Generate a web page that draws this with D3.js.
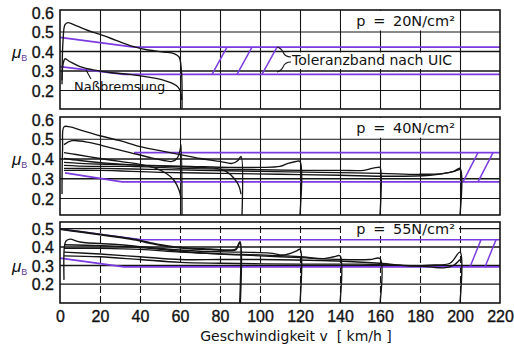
<!DOCTYPE html>
<html>
<head>
<meta charset="utf-8">
<script src="https://cdn.jsdelivr.net/npm/d3@7"></script>
<style>
  body { margin: 0; background: #fff; }
  text { font-family: "Liberation Sans", Arial, sans-serif; fill: #111; }
  .lettering { font-family: "DejaVu Sans", sans-serif; }
</style>
</head>
<body>
<svg id="chart" width="514" height="347"></svg>
<script>
// --- data -----------------------------------------------------------------
const speedTicks = [0, 20, 40, 60, 80, 100, 120, 140, 160, 180, 200, 220];
const muTicksFull = [0.2, 0.3, 0.4, 0.5, 0.6];
const muTicksShort = [0.2, 0.3, 0.4, 0.5];
const pressureLabels = ["p = 20N/cm²", "p = 40N/cm²", "p = 55N/cm²"];

// UIC tolerance band, [v km/h, mu]
const bandUpper20 = [[0, 0.47], [37, 0.42], [220, 0.42]];
const bandLower20 = [[0, 0.32], [32, 0.28], [220, 0.28]];
const bandUpper40 = [[37, 0.43], [220, 0.43]];
const bandLower40 = [[2.5, 0.327], [31, 0.282], [220, 0.282]];
const bandUpper55 = [[0, 0.495], [41, 0.437], [220, 0.437]];
const bandLower55 = [[0, 0.338], [32, 0.29], [220, 0.29]];

// hatch strokes (start speed at the lower band line)
const hatch20 = [76, 88.5, 101];
const hatch40 = [201.5, 209];
const hatch55 = [205, 212.5];

// braking runs p = 20 N/cm2
const dry20 = [[1, 0.25], [1.5, 0.45], [2.5, 0.535], [4, 0.545], [8, 0.53], [14, 0.505], [20, 0.485], [28, 0.455], [36, 0.425], [44, 0.405], [52, 0.395], [57, 0.387], [59.5, 0.37], [60.7, 0.3], [61, 0.103]];
const wet20 = [[1, 0.23], [1.5, 0.33], [2.5, 0.36], [5, 0.345], [10, 0.32], [16, 0.305], [25, 0.29], [35, 0.28], [45, 0.265], [52, 0.25], [56, 0.235], [59, 0.215], [60.3, 0.19], [60.9, 0.15]];

// braking runs p = 40 N/cm2
const run40a = [[1, 0.22], [1.3, 0.45], [2, 0.56], [5, 0.56], [10, 0.545], [20, 0.515], [30, 0.49], [40, 0.46], [50, 0.44], [60, 0.42], [70, 0.4], [80, 0.385], [86, 0.375], [89, 0.39], [90.5, 0.41], [91, 0.114]];
const run40b = [[2, 0.47], [6, 0.49], [15, 0.48], [25, 0.455], [35, 0.43], [45, 0.405], [52, 0.39], [56, 0.385], [58.5, 0.4], [60, 0.44], [60.5, 0.47], [61, 0.114]];
const run40c = [[2, 0.43], [8, 0.42], [20, 0.4], [30, 0.385], [40, 0.37], [48, 0.35], [53, 0.325], [57, 0.29], [59.5, 0.24], [60.5, 0.2]];
const run40d = [[2, 0.4], [10, 0.39], [25, 0.375], [40, 0.365], [55, 0.36], [70, 0.355], [78, 0.35], [83, 0.335], [87, 0.3], [89.5, 0.26], [90.5, 0.22]];
const run40e = [[2, 0.38], [10, 0.375], [25, 0.37], [45, 0.365], [65, 0.36], [85, 0.355], [100, 0.355], [110, 0.36], [114, 0.375], [118, 0.385], [120, 0.385], [120, 0.114]];
const run40f = [[2, 0.365], [15, 0.36], [35, 0.36], [60, 0.35], [90, 0.345], [120, 0.34], [140, 0.34], [152, 0.34], [156, 0.35], [159, 0.355], [160, 0.355], [160, 0.114]];
const run40g = [[2, 0.35], [20, 0.35], [45, 0.345], [70, 0.34], [100, 0.335], [130, 0.33], [160, 0.325], [180, 0.32], [192, 0.325], [197, 0.335], [200, 0.35], [200, 0.114]];
const run40h = [[2, 0.34], [20, 0.34], [50, 0.33], [80, 0.325], [110, 0.32], [140, 0.315], [165, 0.31], [185, 0.315], [195, 0.33], [200, 0.345]];

// braking runs p = 55 N/cm2
const run55a = [[0, 0.495], [10, 0.48], [20, 0.465], [30, 0.45], [38, 0.437], [45, 0.42], [55, 0.4], [65, 0.39], [75, 0.385], [85, 0.38], [88, 0.385], [90, 0.425], [90, 0.095]];
const run55b = [[2, 0.22], [2.2, 0.4], [3, 0.43], [5, 0.44], [10, 0.425], [30, 0.41], [50, 0.39], [70, 0.375], [90, 0.37], [105, 0.365], [112, 0.355], [118, 0.375], [120, 0.385], [120, 0.095]];
const run55c = [[2, 0.41], [20, 0.405], [40, 0.395], [60, 0.375], [80, 0.36], [100, 0.355], [120, 0.345], [132, 0.335], [137, 0.345], [140, 0.35], [140, 0.095]];
const run55d = [[2, 0.39], [20, 0.39], [40, 0.385], [60, 0.37], [80, 0.36], [100, 0.35], [120, 0.34], [140, 0.33], [155, 0.33], [160, 0.335], [160, 0.095]];
const run55e = [[2, 0.37], [20, 0.36], [40, 0.345], [60, 0.33], [80, 0.33], [100, 0.33], [130, 0.325], [160, 0.31], [175, 0.295], [185, 0.3], [195, 0.31], [200, 0.37], [200, 0.095]];
const run55f = [[2, 0.35], [20, 0.345], [40, 0.33], [60, 0.315], [80, 0.31], [120, 0.305], [150, 0.305], [170, 0.3], [185, 0.29], [192, 0.285], [197, 0.3], [200, 0.33]];

// --- drawing --------------------------------------------------------------
const svg = d3.select("#chart");
const purple = "#7b3be0";
const ink = "#151515";

const x = d3.scaleLinear().domain([0, 220]).range([60, 500]);

const panels = [
  { top: 10, bottom: 109, lo: 0.103, hi: 0.61, ticks: muTicksFull, muAt: 0.4, dash: null,
    runs: [dry20, wet20], upper: bandUpper20, lower: bandLower20, hatch: hatch20, hatchW: 7.5, label: pressureLabels[0] },
  { top: 117, bottom: 215, lo: 0.114, hi: 0.61, ticks: muTicksFull, muAt: 0.4, dash: null,
    runs: [run40a, run40b, run40c, run40d, run40e, run40f, run40g, run40h], upper: bandUpper40, lower: bandLower40, hatch: hatch40, hatchW: 7.5, label: pressureLabels[1] },
  { top: 222, bottom: 303, lo: 0.095, hi: 0.533, ticks: muTicksShort, muAt: 0.3, dash: "7,3",
    runs: [run55a, run55b, run55c, run55d, run55e, run55f], upper: bandUpper55, lower: bandLower55, hatch: hatch55, hatchW: 5.5, label: pressureLabels[2] }
];

const line = d3.line().curve(d3.curveCatmullRom.alpha(0.5));

panels.forEach((p, i) => {
  const y = d3.scaleLinear().domain([p.lo, p.hi]).range([p.bottom, p.top]);
  const g = svg.append("g");
  const h = p.bottom - p.top;

  // vertical grid
  const gx = g.append("g")
    .attr("transform", `translate(0,${p.bottom})`)
    .call(d3.axisBottom(x).tickValues(speedTicks.slice(1, -1)).tickSize(-h).tickFormat(""));
  gx.select(".domain").remove();
  gx.selectAll("line").attr("stroke", ink).attr("stroke-width", 1.1)
    .attr("stroke-dasharray", p.dash);

  // horizontal grid
  const gy = g.append("g")
    .attr("transform", `translate(60,0)`)
    .call(d3.axisLeft(y).tickValues(p.ticks.filter(t => y(t) > p.top + 4)).tickSize(-440).tickFormat(""));
  gy.select(".domain").remove();
  gy.selectAll("line").attr("stroke", ink).attr("stroke-width", d => (d === 0.3 || d === 0.4) ? 1.5 : 1.1);

  // pressure label box
  const boxBottom = i === 2 ? y(0.46) : y(0.5);
  g.append("rect")
    .attr("x", x(140) + 1).attr("y", p.top + 1)
    .attr("width", x(200) - x(140) - 2).attr("height", boxBottom - p.top - 2)
    .attr("fill", "#fff");
  g.append("text").attr("class", "lettering")
    .attr("x", x(200) - 5).attr("y", p.top + (boxBottom - p.top) / 2 + 5)
    .attr("text-anchor", "end").attr("font-size", 14.5)
    .attr("word-spacing", 3)
    .text(p.label);

  // tolerance band
  [p.upper, p.lower].forEach(b => {
    g.append("path")
      .attr("d", d3.line().x(d => x(d[0])).y(d => y(d[1]))(b))
      .attr("fill", "none").attr("stroke", purple).attr("stroke-width", 1.7);
  });
  const yUp = y(p.upper[p.upper.length - 1][1]);
  const yLo = y(p.lower[p.lower.length - 1][1]);
  g.selectAll(".hatch").data(p.hatch).join("line")
    .attr("x1", d => x(d)).attr("y1", yLo)
    .attr("x2", d => x(d + p.hatchW)).attr("y2", yUp)
    .attr("stroke", purple).attr("stroke-width", 1.5);

  // braking runs
  g.selectAll(".run").data(p.runs).join("path")
    .attr("d", r => line.x(d => x(d[0])).y(d => y(d[1]))(r))
    .attr("fill", "none").attr("stroke", ink)
    .attr("stroke-width", (r, k) => (i === 2 && k === 0) ? 2 : 1.35)
    .attr("stroke-linejoin", "round");

  // y tick labels
  const ly = g.append("g")
    .attr("transform", "translate(60,1)")
    .call(d3.axisLeft(y).tickValues(p.ticks).tickSize(0).tickPadding(6).tickFormat(d3.format(".1f")));
  ly.select(".domain").remove();
  ly.selectAll("text").attr("font-size", 16).attr("fill", ink)
    .attr("stroke", ink).attr("stroke-width", 0.35)
    .attr("font-family", "Liberation Sans, Arial, sans-serif");

  // mu_B
  const mu = g.append("text").attr("x", 12).attr("y", y(p.muAt) + 6.5)
    .attr("font-size", 17).attr("font-style", "italic");
  mu.append("tspan").text("μ");
  mu.append("tspan").attr("dy", 3).attr("font-size", 9).attr("font-style", "normal")
    .attr("fill", "#5a3a9a").text("B");

  // frame
  g.append("rect")
    .attr("x", 60).attr("y", p.top).attr("width", 440).attr("height", h)
    .attr("fill", "none").attr("stroke", ink).attr("stroke-width", 1.6);

  if (i === 0) {
    // Toleranzband label
    g.append("rect").attr("x", 289).attr("y", y(0.4) + 1.5)
      .attr("width", x(200) - 290).attr("height", y(0.3) - y(0.4) - 3).attr("fill", "#fff");
    g.append("text").attr("class", "lettering")
      .attr("x", 292).attr("y", 65).attr("font-size", 14)
      .text("Toleranzband nach UIC");
    g.append("path")
      .attr("d", "M291,57 Q285,57 283,52 Q281,48 277,47 M291,62 Q285,62 283,67 Q281,71 277,72")
      .attr("fill", "none").attr("stroke", ink).attr("stroke-width", 1.1);
    // Nassbremsung
    g.append("text").attr("class", "lettering")
      .attr("x", 74).attr("y", 91).attr("font-size", 13)
      .text("Naßbremsung");
    g.append("line").attr("x1", 86).attr("y1", 70).attr("x2", 91).attr("y2", 79)
      .attr("stroke", ink).attr("stroke-width", 1.1);
  }

  if (i === 2) {
    const ax = g.append("g")
      .attr("transform", `translate(0,${p.bottom})`)
      .call(d3.axisBottom(x).tickValues(speedTicks).tickSize(0).tickPadding(8));
    ax.select(".domain").remove();
    ax.selectAll("text").attr("font-size", 16).attr("fill", ink)
      .attr("stroke", ink).attr("stroke-width", 0.35)
      .attr("font-family", "Liberation Sans, Arial, sans-serif");
  }
});

svg.append("text").attr("class", "lettering")
  .attr("x", 296).attr("y", 341).attr("text-anchor", "middle").attr("font-size", 14)
  .attr("xml:space", "preserve")
  .text("Geschwindigkeit v  [ km/h ]");
</script>
</body>
</html>
